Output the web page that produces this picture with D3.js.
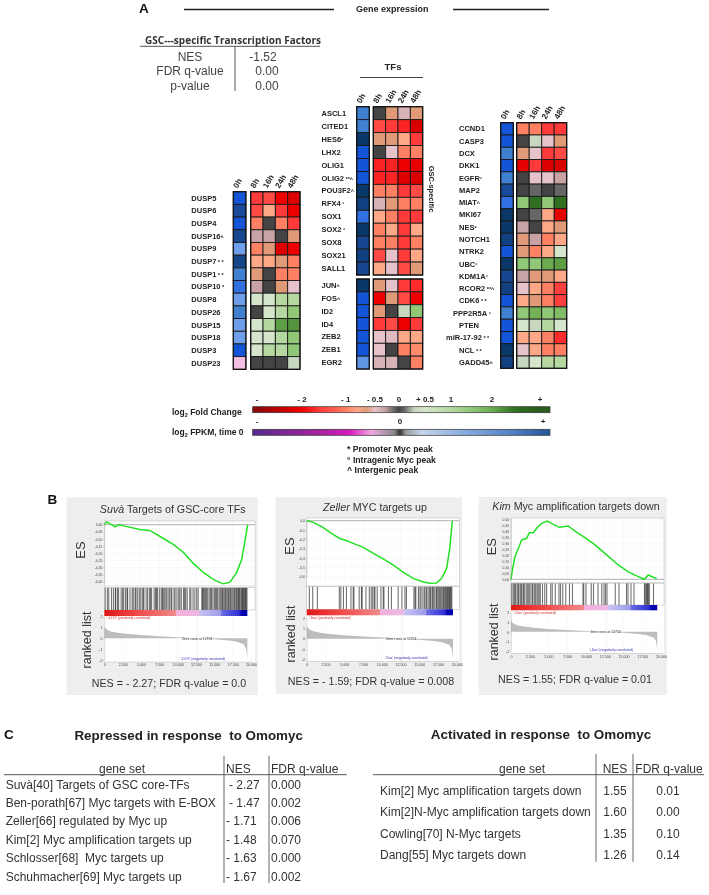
<!DOCTYPE html>
<html><head><meta charset="utf-8">
<script src="https://cdn.jsdelivr.net/npm/d3@7"></script>
<style>
html,body{margin:0;padding:0;background:#fff}
svg{display:block;filter:blur(0.45px)}
text{font-family:"Liberation Sans",Arial,sans-serif}
</style></head><body><svg id="c" width="709" height="895"></svg>
<script>
// ---------- Heatmap data ----------
const times = ["8h","16h","24h","48h"];
const duspGenes = ["DUSP5","DUSP6","DUSP4","DUSP16^","DUSP9","DUSP7 * *","DUSP1 * *","DUSP10 *","DUSP8","DUSP26","DUSP15","DUSP18","DUSP3","DUSP23"];
const dusp0h = [3,4,3,4.2,1,4.3,2,2.5,1,2,1,1,3,-1];
const duspFc = [[-1.6,-1.45,-2.1,-2.4],[-1.45,-.8,-1.6,-2.1],[-1,0,-1,-1.6],[-.3,-.3,0,-.65],[-1,-.65,-2.4,-2.1],[-.8,-.8,-.65,-1],[-.65,0,-1,-1],[-.3,0,-.65,-.5],[.5,.5,1,1],[0,.5,1,1.5],[.5,1,2.2,2.4],[.5,.5,1,1.5],[.5,1,1,1.5],[0,0,0,.3]];
const tfGenesA = ["ASCL1","CITED1","HES6*","LHX2","OLIG1","OLIG2 **^","POU3F2^","RFX4 °","SOX1","SOX2 °","SOX8","SOX21","SALL1"];
const tfA0h = [2,2,5,3,3,3,5,4.5,2.5,5,4.2,4.5,4.2];
const tfAFc = [[0,-.65,-.4,-.65],[-1.45,-1.6,-1.75,-2.5],[-.65,-.65,-.8,-1.6],[0,-.5,-1,-1],[-1.75,-1.75,-2.1,-2.25],[-1.75,-1.75,-2.4,-2.5],[-1,-1,-1.6,-1.45],[-.4,-.65,-1,-1],[-.8,-1,-1.6,-1.6],[-1,-.8,-1.6,-.8],[-1,-1,-1.6,-1],[-1.45,-.5,-1.6,-.8],[-.8,-.5,-1.45,-.65]];
const tfGenesB = ["JUN^","FOS^","ID2","ID4","ZEB2","ZEB1","EGR2"];
const tfB0h = [5,3,3,3,3,3,1.3];
const tfBFc = [[-.65,-.5,-1.6,-1.7],[-2.1,-.65,-1.45,-2.1],[-.65,0,.3,1.5],[-1.6,-1.45,-2.1,-1.6],[-.5,-.45,-.8,-.8],[-.5,0,-1,-.95],[-.4,-.4,0,-1]];
const rightGenes = ["CCND1","CASP3","DCX","DKK1","EGFR°","MAP2","MIAT^","MKI67","NES*","NOTCH1","NTRK2","UBC°","KDM1A°","RCOR2 **^","CDK6 * *","PPP2R5A °","PTEN","miR-17-92 * *","NCL * *","GADD45^"];
const right0h = [3,3,2,3,2,4,2.5,5,5,4.5,3,5,4.2,4.5,3,2,3,3,5,4.5];
const rightFc = [[-1,-1,-1.6,-1.6],[0,.3,-.5,-.65],[-.65,-.5,-1.6,-1.45],[-2.25,-1.6,-2.4,-2.5],[0,-.5,-.5,-.3],[0,-.1,0,-.1],[1.5,3,1.5,3],[0,.1,-.8,-2.25],[-.3,0,-.8,-.65],[-.65,-.3,-1,-.8],[-.65,-1,-.8,.5],[1.5,1.5,2,2.2],[-.3,-.65,-.65,-.8],[-.5,-.8,-1,-1.55],[-.8,-.65,-1,-1.55],[1.5,1.9,1.5,1.7],[.5,.3,1,.5],[-.8,-.8,-1,-1.7],[-.5,-.8,-1,-1],[.3,.5,1,1]];

// ---------- Colour legends ----------
const fcLevels = [-4,-2.5,-2,-1.6,-1.3,-1,-.8,-.65,-.5,-.3,-.1,0,.1,.3,.5,1,1.5,2,3,4];
const fcColors = ["#8a0808","#d80000","#f40000","#ff3a3a","#ff5a50","#ff8062","#ffa888","#e09a78","#e6c3cb","#c8a2a4","#666666","#444444","#666666","#c8d8c0","#d5e6cc","#b5d8a0","#90c878","#6aab50","#2f6f1f","#2a5a1c"];
const fpkmLevels = [-1,0,1,2,2.5,3,4,5];
const fpkmColors = ["#f8bfe4","#444444","#6f9fec","#3f80d0","#3070e0","#1455d8","#1a4a9a","#0a3868"];
const fcTickValues = [-4,-2,-1,-.5,0,.5,1,2,4];
const fcTickLabels = ["-","- 2","- 1","- 0.5","0","+ 0.5","1","2","+"];
const fpkmBarLevels = [-1,-.55,-.35,-.2,-.04,0,.04,.15,.45,.8,1];
const fpkmBarColors = ["#5a2a90","#a822a0","#d81cc0","#f0a8e0","#888888","#333333","#999999","#c4d4ea","#88acdf","#4f7fc4","#2a5aa0"];
const fpkmTickValues = [-1,0,1];
const fpkmTickLabels = ["-","0","+"];
const peakNotes = ["* Promoter Myc peak","° Intragenic Myc peak","^ Intergenic peak"];

// ---------- GSEA data ----------
const suvaRank = [0,300,1000,1450,1900,2800,4860,6200,8000,9400,10800,12100,13500,14900,16200,17100,18000,18700,19200,19550];
const suvaES = [0,.02,0,-.015,0,-.01,-.033,-.04,-.095,-.138,-.195,-.27,-.335,-.385,-.415,-.405,-.34,-.25,-.11,0];
const zellerRank = [0,890,2000,3300,4440,5100,6200,7550,8890,10200,11550,12900,14200,15550,16450,17300,18000,18670,19100,19420];
const zellerES = [0,-.018,-.064,-.135,-.193,-.207,-.243,-.286,-.35,-.41,-.475,-.553,-.618,-.657,-.671,-.668,-.618,-.51,-.279,0];
const kimRank = [0,220,530,980,1420,2090,2440,2980,3420,4090,4840,5640,6440,7640,8760,9870,11200,12750,14300,15640,16750,17780,18300,19420];
const kimES = [0,.09,.188,.257,.326,.34,.387,.387,.423,.464,.483,.456,.431,.442,.39,.345,.285,.202,.119,.061,.028,0,.036,.006];
const suvaHits = [120,420,610,980,1240,1500,1560,1800,1950,2300,2500,2650,2900,3100,3180,3500,3800,3950,4200,4300,4500,4750,4900,5150,5300,5400,5700,5900,6150,6300,6450,6800,7000,7100,7250,7500,7750,7900,8000,8150,8300,8500,8700,8900,9100,9200,9500,9650,9900,10150,10300,10500,10800,10950,11100,11300,11650,11800,12100,12350,12600,12800,13300,13400,13500,13650,13800,13950,14100,14300,14500,14600,14800,15000,15150,15300,15450,15650,15800,15950,16100,16200,16350,16500,16600,16750,16900,17000,17150,17250,17400,17550,17700,17800,17950,18050,18200,18300,18400,18500,18650,18750,18850,18950,19050,19150,19250,19350,19450];
const zellerHits = [355,800,1420,4350,4550,4900,5300,5900,6200,6300,7000,7300,7400,7900,8350,8600,8800,9000,9100,9400,9900,10200,10300,10900,11300,12200,12700,13100,13300,14300,14450,14550,14900,15100,15250,15500,15700,15900,16000,16200,16400,16500,16700,16800,16950,17100,17300,17400,17550,17700,17850,18000,18150,18250,18400,18500,18650,18750,18850,18950,19050,19150,19250,19350];
const kimHits = [100,300,450,600,800,950,1050,1250,1400,1600,1700,1850,2100,2250,2400,2550,2800,2900,3100,3250,3450,3600,3750,3900,4200,4500,4750,5300,5500,5900,6400,6600,6900,7300,7800,8200,9600,9700,10000,10700,11000,11600,12100,12400,12600,12800,13900,14400,15400,15600,16000,16400,17800,17900,18050,18150,18250,18300,18450,19000];
const stripRanks = [0,4500,9700,9800,12900,13000,15900,16000,18300,18800,19500];
const stripColors = ["#e01818","#f04848","#f08a8a","#f2b0da","#ecb8e2","#c8c4f2","#9a9aea","#6a6ae4","#3232d2","#0000b0","#0000a8"];
const metricRank = [0,100,500,1000,2000,3000,5000,7500,10000,12750,15000,17000,18000,19000,19300,19430,19500];
const suvaMetric = [1.15,.95,.75,.62,.5,.42,.3,.2,.1,0,-.08,-.2,-.3,-.55,-.9,-1.4,-2];
const zellerMetric = [1.35,1.05,.85,.7,.55,.45,.32,.2,.1,0,-.1,-.22,-.34,-.6,-.95,-1.4,-1.9];
const kimMetric = [1.25,1.0,.8,.65,.52,.44,.3,.2,.1,0,-.1,-.22,-.32,-.58,-.9,-1.4,-2];
const rankTicks = [0,2500,5000,7500,10000,12500,15000,17500,20000];
const metricTicks = [-2,-1,0,1,2];
const suvaTicks = [0,-.05,-.1,-.15,-.2,-.25,-.3,-.35,-.4];
const zellerTicks = [0,-.1,-.2,-.3,-.4,-.5,-.6];
const kimTicks = [0,.05,.1,.15,.2,.25,.3,.35,.4,.45,.5];

// ---------- Table data ----------
const repressedSets = ["Suvà[40] Targets of GSC core-TFs","Ben-porath[67] Myc targets with E-BOX","Zeller[66] regulated by Myc up","Kim[2] Myc amplification targets up","Schlosser[68]  Myc targets up","Schuhmacher[69] Myc targets up"];
const repressedNES = [" - 2.27"," - 1.47","- 1.71","- 1.48","- 1.63","- 1.67"];
const repressedFDR = ["0.000","0.002","0.006","0.070","0.000","0.002"];
const activatedSets = ["Kim[2] Myc amplification targets down","Kim[2]N-Myc amplification targets down","Cowling[70] N-Myc targets","Dang[55] Myc targets down"];
const activatedNES = ["1.55","1.60","1.35","1.26"];
const activatedFDR = ["0.01","0.00","0.10","0.14"];
const gscStatLabels = ["NES","FDR q-value","p-value"];
const gscStatValues = ["-1.52","0.00","0.00"];

// ---------- Drawing ----------
const svg = d3.select("#c");
const fcColor = d3.scaleLinear().domain(fcLevels).range(fcColors).clamp(true);
const fpkmColor = d3.scaleLinear().domain(fpkmLevels).range(fpkmColors).clamp(true);
const defs = svg.append("defs");

function txt(g,x,y,s,o={}){
  return g.append("text").attr("x",x).attr("y",y).attr("dy",".35em").text(s)
    .attr("font-size",o.size||8).attr("font-weight",o.bold?"bold":"normal")
    .attr("font-style",o.italic?"italic":"normal")
    .attr("text-anchor",o.anchor||"start").attr("fill",o.fill||"#222");
}
function line(g,x1,y1,x2,y2,c,w){
  return g.append("line").attr("x1",x1).attr("y1",y1).attr("x2",x2).attr("y2",y2).attr("stroke",c||"#333").attr("stroke-width",w||1);
}

// Panel A header
txt(svg,139,8,"A",{size:13.5,bold:true,fill:"#111"});
line(svg,184,9.5,334,9.5,"#222",1.3);
txt(svg,356,9,"Gene expression",{size:9,bold:true});
line(svg,453,9.5,549,9.5,"#222",1.3);
svg.append("text").attr("x",233).attr("y",40).attr("dy",".35em").attr("text-anchor","middle")
  .attr("font-size",10).attr("font-weight","bold").attr("fill","#333").style("font-family","'Open Sans','Liberation Sans',sans-serif").attr("textLength",176).text("GSC---specific Transcription Factors");
line(svg,140,46.3,320,46.3,"#555",1);
line(svg,235,46,235,91,"#555",1);
gscStatLabels.forEach((l,i)=>{
  const y=[57,71,85.5][i];
  txt(svg,190,y,l,{size:12,anchor:"middle",fill:"#444"});
  txt(svg,[263,267,267][i],y,gscStatValues[i],{size:12,anchor:"middle",fill:"#444"});
});
txt(svg,393,67,"TFs",{size:9.5,bold:true,anchor:"middle"});
line(svg,360,77.5,423,77.5,"#444",1);
const gscLab=txt(svg,0,0,"GSC-specific",{size:7.5,bold:false,anchor:"middle",fill:"#222"});
gscLab.attr("transform","translate(432,189) rotate(90)").attr("font-weight","600");

function heat(blocks){
  blocks.forEach(b=>{
    const g=svg.append("g");
    const y=d3.scaleBand().domain(b.genes).range([b.top,b.bottom]);
    const x0=d3.scaleBand().domain(["0h"]).range([b.x0,b.x0+12.6]);
    const x=d3.scaleBand().domain(times).range([b.x1,b.x2]);
    g.selectAll(".z").data(b.genes).join("rect")
      .attr("x",x0("0h")).attr("y",d=>y(d)).attr("width",x0.bandwidth()).attr("height",y.bandwidth())
      .attr("fill",(d,i)=>fpkmColor(b.zero[i])).attr("stroke","#1a1a1a").attr("stroke-width",.9);
    b.fc.forEach((row,i)=>{
      g.selectAll(null).data(row).join("rect")
        .attr("x",(d,j)=>x(times[j])).attr("y",y(b.genes[i])).attr("width",x.bandwidth()).attr("height",y.bandwidth())
        .attr("fill",d=>fcColor(d)).attr("stroke","#1a1a1a").attr("stroke-width",.9);
    });
    g.append("rect").attr("x",b.x0).attr("y",b.top).attr("width",12.6).attr("height",b.bottom-b.top).attr("fill","none").attr("stroke","#111").attr("stroke-width",1.2);
    g.append("rect").attr("x",b.x1).attr("y",b.top).attr("width",b.x2-b.x1).attr("height",b.bottom-b.top).attr("fill","none").attr("stroke","#111").attr("stroke-width",1.2);
    b.genes.forEach(gene=>{
      const m=gene.match(/^([A-Za-z0-9-]+)(.*)$/);
      const dx=(b.shift&&b.shift[gene])||0;
      const t=g.append("text").attr("x",b.labelX+dx).attr("y",y(gene)+y.bandwidth()/2).attr("dy",".35em")
        .attr("font-size",7.5).attr("font-weight","bold").attr("fill","#222").text(m[1]);
      if(m[2]) t.append("tspan").attr("font-size",5.5).text(m[2]);
    });
    if(b.header){
      const hd=(s,cx)=>g.append("text").attr("transform",`translate(${cx-2},${b.top-3}) rotate(-60)`)
        .attr("font-size",8).attr("font-weight","bold").attr("fill","#222").text(s);
      hd("0h",x0("0h")+x0.bandwidth()/2);
      times.forEach(s=>hd(s,x(s)+x.bandwidth()/2));
    }
  });
}
heat([
 {genes:duspGenes,zero:dusp0h,fc:duspFc,x0:233.3,x1:250.7,x2:300,top:191.7,bottom:369.3,labelX:191.3,header:true},
 {genes:tfGenesA,zero:tfA0h,fc:tfAFc,x0:356.7,x1:373.3,x2:422.7,top:106.7,bottom:275,labelX:321.5,header:true},
 {genes:tfGenesB,zero:tfB0h,fc:tfBFc,x0:356.7,x1:373.3,x2:422.7,top:279,bottom:369,labelX:321.5},
 {genes:rightGenes,zero:right0h,fc:rightFc,x0:500.7,x1:516.7,x2:566.7,top:122.7,bottom:368.3,labelX:459,header:true,shift:{"miR-17-92 * *":-13,"PPP2R5A °":-6}}
]);

// Colour bars
function bar(id,levels,colorOf,xs,y,labels,ticks,labelY){
  const scale=d3.scaleLinear().domain(ticks).range(xs);
  const grad=defs.append("linearGradient").attr("id",id).attr("gradientUnits","userSpaceOnUse").attr("x1",252.7).attr("x2",550).attr("y1",0).attr("y2",0);
  levels.filter(v=>v>=ticks[0]&&v<=ticks[ticks.length-1]).forEach(v=>grad.append("stop").attr("offset",(scale(v)-252.7)/297.3).attr("stop-color",colorOf(v)));
  svg.append("rect").attr("x",252.7).attr("y",y).attr("width",297.3).attr("height",6).attr("fill",`url(#${id})`).attr("stroke","#333").attr("stroke-width",.7);
  ticks.forEach((v,i)=>txt(svg,scale(v),labelY,labels[i],{size:8,bold:true,anchor:"middle"}));
}
bar("fcG",fcLevels,v=>fcColor(v),[257,302,345.7,375,399,425,451,492,540],406.7,fcTickLabels,fcTickValues,398.7);
const fpkmBarColor=d3.scaleLinear().domain(fpkmBarLevels).range(fpkmBarColors);
bar("fpG",fpkmBarLevels,v=>fpkmBarColor(v),[257,400,543],429.3,fpkmTickLabels,fpkmTickValues,421);
function logLabel(x,y,a,b){
  const t=svg.append("text").attr("x",x).attr("y",y).attr("dy",".35em").attr("font-size",8.5).attr("font-weight","bold").attr("fill","#222").text(a);
  t.append("tspan").attr("font-size",5.5).attr("dy",2).text("2");
  t.append("tspan").attr("dy",-2).text(b);
}
logLabel(172,411.7,"log"," Fold Change");
logLabel(172,432,"log"," FPKM, time 0");
peakNotes.forEach((s,i)=>txt(svg,347,[449,459.7,470][i],s,{size:8.7,bold:true}));

// Panel B
txt(svg,47.5,499,"B",{size:13.5,bold:true,fill:"#111"});
const fmtRank=d=>d===0?"0":d3.format(",")(d).replace(",",".");
function gsea(p){
  const g=svg.append("g");
  g.append("rect").attr("x",p.bg[0]).attr("y",p.bg[1]).attr("width",p.bg[2]-p.bg[0]).attr("height",p.bg[3]-p.bg[1]).attr("fill","#eeeeee");
  const t=g.append("text").attr("x",p.titleX).attr("y",p.titleY).attr("dy",".35em").attr("text-anchor","middle").attr("font-size",10.7).attr("fill","#333");
  t.append("tspan").attr("font-style","italic").text(p.it);
  t.append("tspan").text(p.rest);
  const x=d3.scaleLinear().domain([0,20000]).range([p.x0,p.x1]);
  g.append("rect").attr("x",p.x0).attr("y",p.esTop).attr("width",p.right-p.x0).attr("height",p.rankBottom-p.esTop).attr("fill","#fff");
  // ES plot
  const yES=d3.scaleLinear().domain([p.esTicks[0],p.esTicks[p.esTicks.length-1]]).range(p.esRange);
  g.selectAll(null).data(p.esTicks).join("line").attr("x1",p.x0).attr("x2",p.right).attr("y1",d=>yES(d)).attr("y2",d=>yES(d)).attr("stroke","#f0f0f0").attr("stroke-width",.4);
  g.selectAll(null).data(rankTicks).join("line").attr("x1",d=>x(d)).attr("x2",d=>x(d)).attr("y1",p.esTop).attr("y2",p.esBottom).attr("stroke","#f0f0f0").attr("stroke-width",.4);
  const ax=g.append("g").attr("transform",`translate(${p.x0},0)`).call(d3.axisLeft(yES).tickValues(p.esTicks).tickSize(1).tickPadding(.8).tickFormat(d=>d3.format(p.esFmt)(d).replace(".",",").replace("−","-")));
  ax.selectAll("text").attr("font-size",3.4).attr("fill","#444");ax.selectAll("path,line").attr("stroke","#999").attr("stroke-width",.3);
  line(g,p.x0,yES(0),p.right,yES(0),"#aaa",.9);
  g.append("path").attr("d",d3.line().x((d,i)=>x(p.rank[i])).y(d=>yES(d))(p.es)).attr("fill","none").attr("stroke","#22e022").attr("stroke-width",1.5);
  g.append("rect").attr("x",p.x0).attr("y",p.esTop).attr("width",p.right-p.x0).attr("height",p.esBottom-p.esTop).attr("fill","none").attr("stroke","#aaa").attr("stroke-width",.4);
  // hits
  g.selectAll(null).data(p.hits).join("line").attr("x1",d=>x(d)).attr("x2",d=>x(d)).attr("y1",p.hitTop).attr("y2",p.hitBottom).attr("stroke","#000").attr("stroke-opacity",.55).attr("stroke-width",1.1);
  g.append("rect").attr("x",p.x0).attr("y",p.hitTop).attr("width",p.right-p.x0).attr("height",p.hitBottom-p.hitTop).attr("fill","none").attr("stroke","#888").attr("stroke-width",.3);
  // strip
  const sc=d3.scaleLinear().domain(stripRanks).range(stripColors);
  const gid="st"+p.titleX;const gr=defs.append("linearGradient").attr("id",gid).attr("gradientUnits","userSpaceOnUse").attr("x1",x(0)).attr("x2",x(19500)).attr("y1",0).attr("y2",0);
  stripRanks.forEach(r=>gr.append("stop").attr("offset",r/19500).attr("stop-color",sc(r)));
  g.append("rect").attr("x",x(0)).attr("y",p.hitBottom).attr("width",x(19500)-x(0)).attr("height",p.stripBottom-p.hitBottom).attr("fill",`url(#${gid})`);
  // ranked list
  const yR=d3.scaleLinear().domain([2,-2]).range(p.rankRange);
  g.selectAll(null).data(rankTicks).join("line").attr("x1",d=>x(d)).attr("x2",d=>x(d)).attr("y1",p.stripBottom).attr("y2",p.rankBottom).attr("stroke","#f2f2f2").attr("stroke-width",.4);
  g.append("path").attr("d",d3.area().x((d,i)=>x(metricRank[i])).y0(yR(0)).y1(d=>yR(d))(p.metric)).attr("fill","#bdbdbd");
  line(g,x(12750),p.stripBottom,x(12750),p.rankBottom,"#bbb",.4).attr("stroke-dasharray","1 1");
  const ay=g.append("g").attr("transform",`translate(${p.x0},0)`).call(d3.axisLeft(yR).tickValues(metricTicks).tickSize(1).tickPadding(.8).tickFormat(d=>d3.format("d")(d).replace("−","-")));
  ay.selectAll("text").attr("font-size",3.6).attr("fill","#444");ay.selectAll("path,line").attr("stroke","#999").attr("stroke-width",.3);
  const axb=g.append("g").attr("transform",`translate(0,${p.rankBottom})`).call(d3.axisBottom(x).tickValues(rankTicks).tickSize(1).tickPadding(1).tickFormat(fmtRank));
  axb.selectAll("text").attr("font-size",3.6).attr("fill","#444");axb.selectAll("path,line").attr("stroke","#999").attr("stroke-width",.3);
  txt(g,x(10600),yR(0),"Zero cross at 12753",{size:3.4,fill:"#333"});
  txt(g,x(300),p.stripBottom+2.2,p.pos,{size:3.4,fill:"#c03030"});
  txt(g,x(10400),p.rankRange[1]-1.5,p.neg,{size:3.4,fill:"#3030b0"});
  // labels
  g.append("text").attr("transform",`translate(${p.esLab[0]},${p.esLab[1]}) rotate(-90)`).attr("dy",".35em").attr("text-anchor","middle").attr("font-size",13).attr("fill","#333").text("ES");
  g.append("text").attr("transform",`translate(${p.rlLab[0]},${p.rlLab[1]}) rotate(-90)`).attr("dy",".35em").attr("text-anchor","middle").attr("font-size",12.5).attr("fill","#333").text("ranked list");
  txt(g,p.nesX,p.nesY,p.nes,{size:10.7,anchor:"middle",fill:"#333"});
}
gsea({bg:[66.7,497.3,257.7,695],titleX:172.7,titleY:509,it:"Suvà",rest:" Targets of GSC-core TFs",x0:104.3,x1:251,right:255,esTop:521,esBottom:586,esTicks:suvaTicks,esRange:[524.7,581.7],esFmt:".2f",rank:suvaRank,es:suvaES,hits:suvaHits,hitTop:587.7,hitBottom:610,stripBottom:616,metric:suvaMetric,rankRange:[616.7,660],rankBottom:661.7,pos:"'+DOX' (positively correlated)",neg:"'-DOX' (negatively correlated)",esLab:[80.7,550],rlLab:[86.7,640],nes:"NES = - 2.27; FDR q-value = 0.0",nesX:169,nesY:683});
gsea({bg:[275.7,497.3,462,694],titleX:375,titleY:507.7,it:"Zeller",rest:"  MYC targets up",x0:306.7,x1:456.7,right:459.3,esTop:518,esBottom:586,esTicks:zellerTicks,esRange:[520.7,576.7],esFmt:".1f",rank:zellerRank,es:zellerES,hits:zellerHits,hitTop:586.7,hitBottom:609.3,stripBottom:615.3,metric:zellerMetric,rankRange:[618,659.3],rankBottom:661,pos:"'-Dox' (positively correlated)",neg:"'-Dox' (negatively correlated)",esLab:[289,546],rlLab:[290.7,634],nes:"NES = - 1.59; FDR q-value = 0.008",nesX:371,nesY:681.7});
gsea({bg:[478.7,497,666.7,695],titleX:576,titleY:506.7,it:"Kim",rest:" Myc amplification targets down",x0:511,x1:661,right:664,esTop:518,esBottom:582.7,esTicks:kimTicks,esRange:[579.3,519],esFmt:".2f",rank:kimRank,es:kimES,hits:kimHits,hitTop:583.3,hitBottom:605,stripBottom:610.3,metric:kimMetric,rankRange:[612.7,651],rankBottom:653,pos:"'+Dox' (positively correlated)",neg:"'+Dox' (negatively correlated)",esLab:[491,546.7],rlLab:[494,632],nes:"NES = 1.55; FDR q-value = 0.01",nesX:575,nesY:679});

// Panel C
txt(svg,4,734,"C",{size:13.5,bold:true,fill:"#111"});
const tc="#333", ts=12;
txt(svg,188.7,735,"Repressed in response  to Omomyc",{size:13.4,bold:true,anchor:"middle",fill:"#222"}).style("white-space","pre");
txt(svg,122,768.7,"gene set",{size:ts,anchor:"middle",fill:tc});
txt(svg,226,768.7,"NES",{size:ts,fill:tc});
txt(svg,271,768.7,"FDR q-value",{size:ts,fill:tc});
line(svg,4,774.7,346.7,774.7,"#555",1);
line(svg,224,755.7,224,883,"#666",1);
line(svg,269,755.7,269,883,"#666",1);
const repY=d3.scalePoint().domain(repressedSets).range([784.3,876.7]);
repressedSets.forEach((s,i)=>{
  txt(svg,5.7,repY(s),s,{size:ts,fill:tc}).style("white-space","pre");
  txt(svg,i<2?229:226,repY(s),repressedNES[i].trim(),{size:ts,fill:tc});
  txt(svg,271,repY(s),repressedFDR[i],{size:ts,fill:tc});
});
txt(svg,541,734,"Activated in response  to Omomyc",{size:13.4,bold:true,anchor:"middle",fill:"#222"}).style("white-space","pre");
txt(svg,522,768.3,"gene set",{size:ts,anchor:"middle",fill:tc});
txt(svg,615,768.3,"NES",{size:ts,anchor:"middle",fill:tc});
txt(svg,669,768.3,"FDR q-value",{size:ts,anchor:"middle",fill:tc});
line(svg,373,774.7,704,774.7,"#555",1);
line(svg,596,754,596,861.7,"#666",1);
line(svg,633,754,633,861.7,"#666",1);
const actY=d3.scalePoint().domain(activatedSets).range([790.3,855]);
activatedSets.forEach((s,i)=>{
  txt(svg,380,actY(s),s,{size:ts,fill:tc});
  txt(svg,615,actY(s),activatedNES[i],{size:ts,anchor:"middle",fill:tc});
  txt(svg,668,actY(s),activatedFDR[i],{size:ts,anchor:"middle",fill:tc});
});
</script></body></html>
